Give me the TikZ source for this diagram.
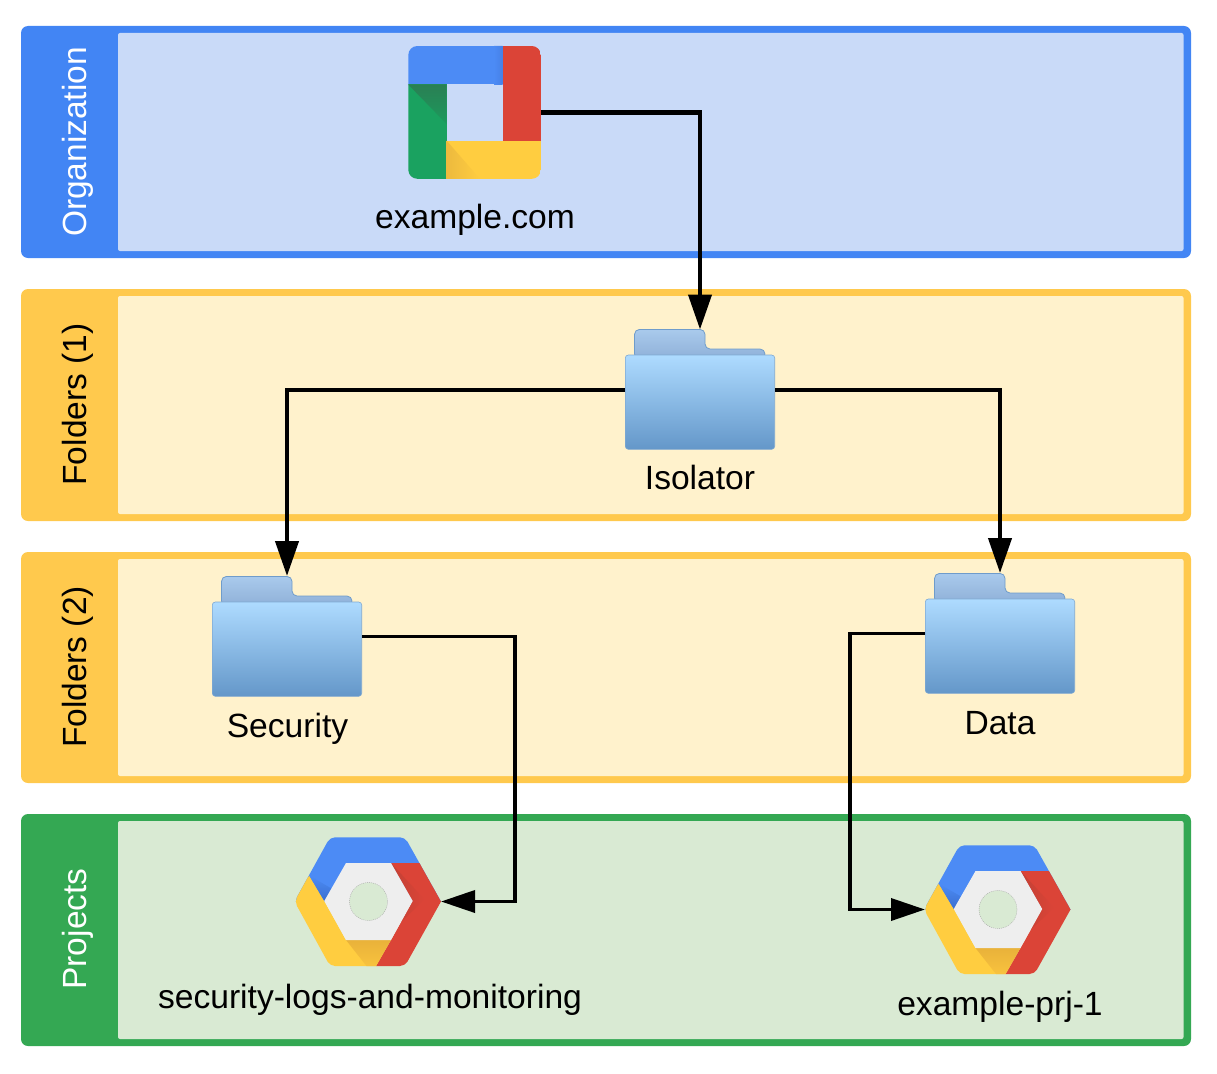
\documentclass[tikz,border=0pt]{standalone}
\usepackage{fontspec}
\setmainfont{Liberation Sans}
\usetikzlibrary{arrows.meta,calc}
\definecolor{gblue}{HTML}{4285F4}
\definecolor{iconblue}{HTML}{4C8BF5}
\definecolor{gbluefill}{HTML}{C9DAF8}
\definecolor{gyellow}{HTML}{FFC94D}
\definecolor{gyellowfill}{HTML}{FFF2CC}
\definecolor{ggreen}{HTML}{34A853}
\definecolor{ggreenfill}{HTML}{D9EAD3}
\definecolor{iconred}{HTML}{DB4437}
\definecolor{icongreen}{HTML}{1AA260}
\definecolor{iconyellow}{HTML}{FFCD40}
\definecolor{iconwhite}{HTML}{EEEEEE}
\definecolor{folderbacktop}{HTML}{A9CAEC}
\definecolor{folderbackbot}{HTML}{8FB0D8}
\definecolor{folderbackline}{HTML}{6F9CCB}
\definecolor{folderfronttop}{HTML}{AEDBFF}
\definecolor{folderfrontbot}{HTML}{6497C9}
\definecolor{folderfrontline}{HTML}{7FA9D2}
\definecolor{shgreentop}{HTML}{2A7F54}
\definecolor{shgreenbot}{HTML}{1C9A5C}
\definecolor{shyellowa}{HTML}{EDBA3E}
\definecolor{shyellowb}{HTML}{E9B23A}
\definecolor{shyellowc}{HTML}{F8C23E}
\definecolor{shblue}{HTML}{4680E6}
\definecolor{shbluedark}{HTML}{3A6FD0}
\definecolor{shred}{HTML}{C24135}
\tikzset{
  bandlabel/.style={rotate=90,anchor=base,font=\fontsize{33.5}{36}\selectfont,inner sep=0pt},
  caption/.style={font=\fontsize{33.6}{36}\selectfont,inner sep=0pt,text=black},
  iconbox/.style={inner sep=0pt,outer sep=0pt,minimum width=#1},
  thick link/.style={draw=black,line width=4.2pt,-{Triangle[length=35pt,width=23pt]}},
  thin link/.style={draw=black,line width=3.6pt,-{Triangle[length=34pt,width=22pt]}},
}
% #1 top, #2 bottom, #3 stroke colour, #4 fill colour
\newcommand{\lanepanel}[4]{%
  \fill[#3,rounded corners=7pt] (21,#1) rectangle (1191,#2);
  \fill[#4,rounded corners=2pt] (118,#1+7) rectangle (1183.5,#2-7);
}
% centre x, top y
\newcommand{\foldericon}[2]{%
  \begin{scope}[shift={(#1,#2)}]
    \shade[top color=folderbacktop,bottom color=folderbackbot,draw=folderbackline,line width=0.8pt,rounded corners=5pt]
      (-65.5,30) -- (-65.5,0.4) -- (5,0.4) -- (5,20) -- (65,20) -- (65,30) -- cycle;
    \shade[top color=folderfronttop,bottom color=folderfrontbot,draw=folderfrontline,line width=0.6pt,rounded corners=3pt]
      (-74.7,26) rectangle (74.7,120.3);
  \end{scope}}
% centre x, centre y
\newcommand{\hexicon}[2]{%
  \begin{scope}[shift={(#1,#2)}]
    \begin{scope}
      \clip[rounded corners=5pt] (-74,0) -- (-38.5,-64.2) -- (36.5,-64.2) [sharp corners] -- (72.5,0) [rounded corners=5pt] -- (36.5,64.5) -- (-38.5,64.5) -- cycle;
      \fill[iconblue] (-80,-70) rectangle (80,0);
      \fill[iconyellow] (-59.2,-25.8) -- (-80,0) -- (-39,70) -- (4.6,70) -- (22.5,38.5) -- (-22.5,38.5) -- (-44.2,-0.5) -- cycle;
      \fill[iconred] (22.5,-38.5) -- (51.5,-38.5) -- (80,0) -- (40,70) -- (4.6,70) -- (22.5,38.5) -- (44.2,-0.5) -- cycle;
      \shade[top color=shyellowb,bottom color=shyellowc] (-22.5,38.5) -- (22.5,38.5) -- (7.5,64.5) -- (-2,64.5) -- cycle;
      \shade[top color=iconblue,bottom color=shbluedark] (-59.2,-25.8) -- (-44.2,-0.5) -- (-37,-13) -- cycle;
      \shade[left color=shred,right color=iconred] (22.5,-38.5) -- (44.2,-0.5) -- (32,21) -- (56,-2) -- cycle;
    \end{scope}
    \fill[iconwhite] (-44.2,-0.5) -- (-22.5,-38.5) -- (22.5,-38.5) -- (44.2,-0.5) -- (22.5,38.5) -- (-22.5,38.5) -- cycle;
    \fill[ggreenfill] (0,0) circle (19);
    \draw[black!35,line width=0.4pt,dash pattern=on 1pt off 1pt] (0,0) circle (19);
  \end{scope}}
\begin{document}
\begin{tikzpicture}[x=1pt,y=-1pt]
  \useasboundingbox (0,0) rectangle (1217,1073);
  \lanepanel{26}{258}{gblue}{gbluefill}
  \lanepanel{289}{521}{gyellow}{gyellowfill}
  \lanepanel{552}{783}{gyellow}{gyellowfill}
  \lanepanel{814}{1046}{ggreen}{ggreenfill}
  \node[bandlabel,text=white] (lblorg) at (86,142) {Organization};
  \node[bandlabel,text=black] (lblf1) at (86,404.5) {Folders (1)};
  \node[bandlabel,text=black] (lblf2) at (86,667) {Folders (2)};
  \node[bandlabel,text=white] (lblprj) at (86,929) {Projects};

  % organisation icon
  \begin{scope}
    \clip[rounded corners=9pt] (408.3,46) rectangle (540.8,178.8);
    \fill[iconred] (502.7,46) rectangle (541,140.7);
    \fill[icongreen] (408,84.3) rectangle (446.7,179);
    \fill[iconyellow] (446.7,140.7) rectangle (541,179);
    \fill[iconblue] (408,46) rectangle (502.7,84.3);
    \shade[top color=shgreentop,bottom color=shgreenbot] (408,84.3) -- (446.7,84.3) -- (446.7,124) -- cycle;
    \shade[left color=shyellowa,right color=iconyellow] (446.7,140.7) -- (446.7,179) -- (480,179) -- cycle;
    \shade[left color=iconblue,right color=shblue] (494,46) rectangle (502.7,84.3);
  \end{scope}
  \node[iconbox=133pt,minimum height=133pt] (orgicon) at (474.5,112.5) {};
  \node[caption] (orgcap) at (475,220) {example.com};

  \foldericon{700}{329}
  \node[iconbox=150pt,minimum height=121pt] (isolator) at (700,390) {};
  \node[caption] (isocap) at (700,477.5) {Isolator};

  \foldericon{287}{576}
  \node[iconbox=150pt,minimum height=121pt] (security) at (287,636.5) {};
  \node[caption] (seccap) at (287.5,729) {Security};

  \foldericon{1000}{573}
  \node[iconbox=150pt,minimum height=121pt] (data) at (1000,633.5) {};
  \node[caption] (datacap) at (1000,723) {Data};

  \hexicon{368.5}{901.5}
  \node[iconbox=145pt,minimum height=130pt] (secprj) at (368.5,901.5) {};
  \node[caption] (secprjcap) at (370,1000) {security-logs-and-monitoring};

  \hexicon{998}{909.5}
  \node[iconbox=146pt,minimum height=130pt] (exprj) at (998,909.5) {};
  \node[caption] (exprjcap) at (1000,1007) {example-prj-1};

  \coordinate (secbend) at (515,636.5);
  \coordinate (databend) at (850,633.5);
  \draw[thick link] (orgicon.east) -| (isolator.north);
  \draw[thick link] (isolator.west) -| (security.north);
  \draw[thick link] (isolator.east) -| (data.north);
  \draw[thin link] (security.east) -- (secbend) |- (secprj.east);
  \draw[thin link] (data.west) -- (databend) |- (exprj.west);
\end{tikzpicture}
\end{document}
